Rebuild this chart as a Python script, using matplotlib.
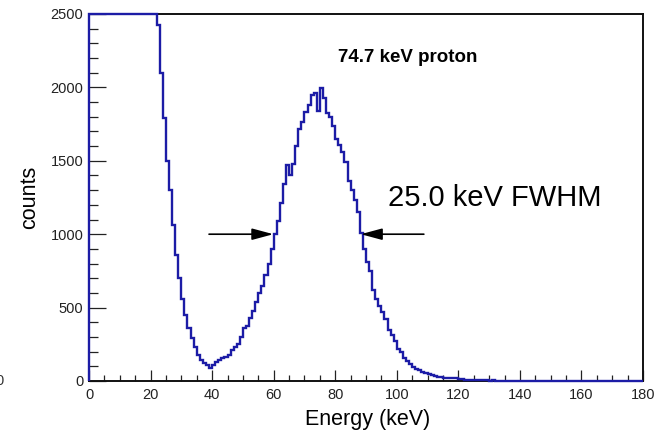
import numpy as np
import matplotlib
matplotlib.use("Agg")
import matplotlib.pyplot as plt
from matplotlib.ticker import MultipleLocator

plt.rcParams['font.family'] = ['Liberation Sans', 'DejaVu Sans']

# ---------------- data ----------------
bin_width_kev = 1.0
# counts per 1 keV bin, bins [0,1), [1,2), ... [179,180)
# bins 0-21 are off-scale (above 2500) in the reference
counts = [
    9000, 8600, 8100, 7700, 7200, 6800, 6400, 6000, 5700, 5400,
    5100, 4800, 4500, 4300, 4000, 3800, 3600, 3400, 3200, 3000,
    2850, 2700, 2425, 2100, 1790, 1500, 1300, 1060, 860, 700,
    560, 450, 360, 295, 235, 180, 145, 122, 108, 88,
    112, 128, 140, 155, 165, 175, 210, 234, 250, 300,
    360, 372, 430, 480, 535, 600, 645, 720, 800, 900,
    1000, 1090, 1210, 1340, 1470, 1400, 1480, 1600, 1715, 1765,
    1835, 1880, 1950, 1960, 1840, 1995, 1930, 1825, 1800, 1740,
    1650, 1610, 1560, 1490, 1360, 1300, 1230, 1150, 1010, 900,
    810, 750, 620, 560, 510, 470, 425, 350, 315, 275,
    220, 195, 155, 135, 115, 97, 85, 72, 62, 55,
    47, 40, 35, 30, 26, 23, 22, 21, 20, 18,
    16, 12, 7, 6, 5, 6, 5, 4, 5, 4,
    3, 4, 3, 3, 2, 3, 2, 2, 1, 2,
    1, 1, 2, 1, 1, 1, 0, 1, 1, 0,
    1, 0, 1, 0, 0, 1, 0, 0, 1, 0,
    0, 1, 0, 0, 0, 1, 0, 0, 0, 0,
    0, 0, 1, 0, 0, 0, 0, 0, 0, 0,
]
x_range = (0, 180)
y_range = (0, 2500)
x_ticks = [0, 20, 40, 60, 80, 100, 120, 140, 160, 180]
y_ticks = [0, 500, 1000, 1500, 2000, 2500]
x_label = "Energy (keV)"
y_label = "counts"
peak_label = "74.7 keV proton"
fwhm_label = "25.0 keV FWHM"
half_max = 1000
fwhm_edges = (59.9, 88.3)
arrow_tails = (39.0, 108.8)

# ---------------- figure ----------------
W, H = 662, 432
fig = plt.figure(figsize=(W / 100, H / 100), dpi=100)
ax = fig.add_axes([89 / W, (H - 381) / H, (643 - 89) / W, (381 - 14) / H])

edges = np.arange(len(counts) + 1) * bin_width_kev
shown = np.minimum(np.asarray(counts, dtype=float), y_range[1])
ax.stairs(shown, edges, baseline=0, color='#1c1ca6', lw=1.7,
          clip_on=False, zorder=5)

ax.set_xlim(*x_range)
ax.set_ylim(*y_range)
ax.set_xticks(x_ticks)
ax.set_yticks(y_ticks)
ax.xaxis.set_minor_locator(MultipleLocator(5))
ax.yaxis.set_minor_locator(MultipleLocator(100))
ax.tick_params(axis='both', which='both', direction='in', top=False,
               right=False, colors='#222222', labelcolor='#222222')
ax.tick_params(axis='x', which='major', length=8, width=0.9, pad=5, labelsize=10.5)
ax.tick_params(axis='x', which='minor', length=4.3, width=0.9)
ax.tick_params(axis='y', which='major', length=12.2, width=0.9, pad=4, labelsize=10.5)
ax.tick_params(axis='y', which='minor', length=6.5, width=0.9)
for s in ax.spines.values():
    s.set_linewidth(1.4)
    s.set_color('#111111')

fig.text(368 / W, 1 - 419 / H, x_label, ha='center', va='center', fontsize=15.5)
fig.text(30 / W, 1 - 197 / H, y_label, ha='center', va='center',
         fontsize=15.5, rotation=90)
fig.text(408 / W, 1 - 57 / H, peak_label, ha='center', va='center',
         fontsize=13.5, fontweight='bold')
fig.text(388 / W, 1 - 198 / H, fwhm_label, ha='left', va='center', fontsize=21)
fig.text(0 / W, 1 - 381 / H, "0", ha='center', va='center', fontsize=10.5,
         color='#333333')

astyle = "-|>,head_length=1.3,head_width=0.35"
ax.annotate('', xy=(fwhm_edges[0], half_max), xytext=(arrow_tails[0], half_max),
            arrowprops=dict(arrowstyle=astyle, color='black', lw=1.2,
                            mutation_scale=10, shrinkA=0, shrinkB=0), zorder=6)
ax.annotate('', xy=(fwhm_edges[1], half_max), xytext=(arrow_tails[1], half_max),
            arrowprops=dict(arrowstyle=astyle, color='black', lw=1.2,
                            mutation_scale=10, shrinkA=0, shrinkB=0), zorder=6)

fig.savefig("out.png", dpi=100)
